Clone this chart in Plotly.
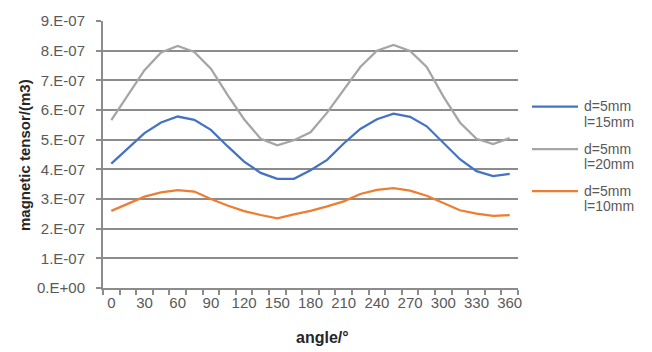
import plotly.graph_objects as go

angles = list(range(0, 361, 15))
l15 = [4.19, 4.70, 5.22, 5.58, 5.78, 5.67, 5.33, 4.78, 4.26, 3.88, 3.68, 3.68, 3.97,
       4.32, 4.87, 5.36, 5.69, 5.88, 5.77, 5.45, 4.89, 4.34, 3.94, 3.77, 3.85]
l20 = [5.66, 6.51, 7.34, 7.94, 8.16, 7.96, 7.39, 6.51, 5.69, 5.03, 4.81, 4.98, 5.25,
       5.91, 6.68, 7.45, 8.00, 8.19, 7.99, 7.45, 6.46, 5.58, 5.03, 4.85, 5.05]
l10 = [2.60, 2.84, 3.08, 3.22, 3.30, 3.25, 3.00, 2.78, 2.59, 2.46, 2.35, 2.48, 2.60,
       2.75, 2.92, 3.17, 3.31, 3.37, 3.28, 3.11, 2.87, 2.62, 2.51, 2.43, 2.46]
scale = 1e-7
name_line1 = ["d=5mm", "d=5mm", "d=5mm"]
name_line2 = ["l=15mm", "l=20mm", "l=10mm"]
colors = ["#4472C4", "#A5A5A5", "#ED7D31"]
x_ticks = list(range(0, 361, 30))
x_labels = [str(v) for v in x_ticks]
y_ticks = [i * 1e-7 for i in range(10)]
y_labels = ["0.E+00", "1.E-07", "2.E-07", "3.E-07", "4.E-07", "5.E-07",
            "6.E-07", "7.E-07", "8.E-07", "9.E-07"]

grid = "#8C8C8C"
txt = "#595959"
font = "Liberation Sans"

W, H = 652, 352
L, R, T, B = 103, 134, 15, 64
PW, PH = W - L - R, H - T - B


def px(xp):
    return (xp - L) / PW


def py(yp):
    return (H - B - yp) / PH


fig = go.Figure()
for n1, n2, vals, col in zip(name_line1, name_line2, [l15, l20, l10], colors):
    fig.add_trace(go.Scatter(x=angles, y=[v * scale for v in vals], mode="lines",
                             name=n1 + " " + n2, showlegend=False,
                             line=dict(color=col, width=2.25)))

fig.update_layout(
    width=W, height=H,
    margin=dict(l=L, r=R, t=T, b=B),
    paper_bgcolor="white", plot_bgcolor="white",
    font=dict(family=font, size=15, color=txt),
    showlegend=False,
    xaxis=dict(range=[-7.5, 367.5], tickmode="array", tickvals=x_ticks,
               ticktext=x_labels, ticks="", ticklen=0, showgrid=False, zeroline=False,
               showline=True, linecolor=grid, linewidth=2,
               tickfont=dict(family=font, size=15, color=txt),
               minor=dict(tickmode="linear", tick0=-7.5, dtick=15, ticks="outside",
                          ticklen=5, tickcolor=grid, tickwidth=2, showgrid=False)),
    yaxis=dict(range=[0, 9e-7], tickmode="array", tickvals=y_ticks, ticktext=y_labels,
               ticks="outside", ticklen=5, tickcolor=grid, tickwidth=2,
               ticklabelstandoff=8,
               showgrid=True, gridcolor=grid, gridwidth=2, zeroline=False,
               showline=True, linecolor=grid, linewidth=2,
               tickfont=dict(family=font, size=15, color=txt)),
)

# manual legend
leg_y = [102.5, 146, 189]
for n1, n2, col, yy in zip(name_line1, name_line2, colors, leg_y):
    fig.add_shape(type="line", xref="paper", yref="paper",
                  x0=px(532), x1=px(578), y0=py(yy), y1=py(yy),
                  line=dict(color=col, width=2.25))
    fig.add_annotation(text=n1, xref="paper", yref="paper", x=px(582), y=py(yy - 0.5),
                       xanchor="left", yanchor="middle", showarrow=False,
                       font=dict(family=font, size=14, color=txt))
    fig.add_annotation(text=n2, xref="paper", yref="paper", x=px(582), y=py(yy + 15.5),
                       xanchor="left", yanchor="middle", showarrow=False,
                       font=dict(family=font, size=14, color=txt))

fig.add_annotation(text="<b>magnetic tensor/(m3)</b>", xref="paper", yref="paper",
                   x=px(25), y=py(152), textangle=-90, showarrow=False,
                   font=dict(family=font, size=15, color="#262626"),
                   xanchor="center", yanchor="middle")
fig.add_annotation(text="<b>angle/°</b>", xref="paper", yref="paper",
                   x=px(322), y=py(339), showarrow=False,
                   font=dict(family=font, size=16, color="#262626"),
                   xanchor="center", yanchor="middle")
fig.write_html("out.html", config={"displayModeBar": False},
               post_script="document.body.style.margin='0';document.body.style.overflow='hidden';")
